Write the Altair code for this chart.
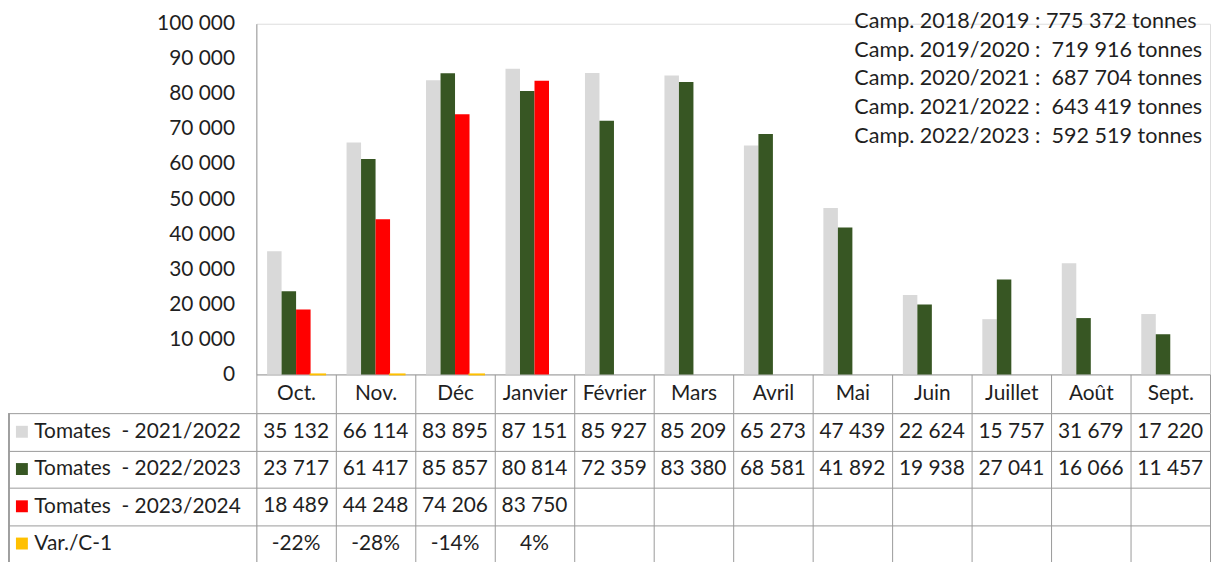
import altair as alt
import pandas as pd

months = ["Oct.", "Nov.", "Déc", "Janvier", "Février", "Mars", "Avril", "Mai",
          "Juin", "Juillet", "Août", "Sept."]
series = ["Tomates\u00a0 - 2021/2022", "Tomates\u00a0 - 2022/2023",
          "Tomates\u00a0 - 2023/2024", "Var./C-1"]
t_2021_2022 = [35132, 66114, 83895, 87151, 85927, 85209, 65273, 47439, 22624, 15757, 31679, 17220]
t_2022_2023 = [23717, 61417, 85857, 80814, 72359, 83380, 68581, 41892, 19938, 27041, 16066, 11457]
t_2023_2024 = [18489, 44248, 74206, 83750]
var_c1 = [-0.22, -0.28, -0.14, 0.04]
colors = ["#D9D9D9", "#375623", "#FF0000", "#FFC000"]
y_ticks = [0, 10000, 20000, 30000, 40000, 50000, 60000, 70000, 80000, 90000, 100000]
campaigns = [
    "Camp. 2018/2019 : 775 372 tonnes",
    "Camp. 2019/2020 :\u00a0 719 916 tonnes",
    "Camp. 2020/2021 :\u00a0 687 704 tonnes",
    "Camp. 2021/2022 :\u00a0 643 419 tonnes",
    "Camp. 2022/2023 :\u00a0 592 519 tonnes",
]

FONT = "Lato"
FS = 21
TXT = "#1f1f1f"
LINE = "#9a9a9a"
W = 960
H = 353
MONTH_ROW = 39
ROW_H = 150
LABEL_W = 249

rows = []
for vals, s, kind in [(t_2021_2022, series[0], "n"), (t_2022_2023, series[1], "n"),
                      (t_2023_2024, series[2], "n"), (var_c1, series[3], "p")]:
    for m, v in zip(months, vals):
        rows.append({"month": m, "series": s, "value": v, "kind": kind})
df = pd.DataFrame(rows)

color_scale = alt.Scale(domain=series, range=colors)
x_scale = alt.Scale(domain=months, paddingInner=0, paddingOuter=0)

bars = alt.Chart(df).mark_bar().encode(
    x=alt.X("month:N", sort=months, scale=x_scale,
            axis=alt.Axis(title=None, labelAngle=0, labelFont=FONT, labelFontSize=FS,
                          labelColor=TXT, labelBaseline="middle", labelPadding=-19.5,
                          tickBand="extent", tickSize=MONTH_ROW, tickColor=LINE,
                          domainColor=LINE, grid=False)),
    xOffset=alt.XOffset("series:N", sort=series,
                        scale=alt.Scale(domain=series, paddingInner=0, paddingOuter=0.74)),
    y=alt.Y("value:Q", scale=alt.Scale(domain=[0, 100000], nice=False),
            axis=alt.Axis(title=None, values=y_ticks, ticks=False, grid=False,
                          labelFont=FONT, labelFontSize=FS, labelColor=TXT,
                          labelPadding=22, domainColor=LINE,
                          labelExpr="replace(format(datum.value, ',d'), regexp(',', 'g'), ' ')")),
    color=alt.Color("series:N", scale=color_scale, legend=None),
    stroke=alt.Stroke("series:N", scale=color_scale, legend=None),
    strokeWidth=alt.condition("datum.series == 'Var./C-1' && datum.value < 0",
                              alt.value(2), alt.value(0)),
)

annot = alt.Chart(pd.DataFrame({"t": ["\n".join(campaigns)]})).mark_text(
    align="left", baseline="top", lineBreak="\n", lineHeight=29,
    font=FONT, fontSize=21.7, color=TXT,
).encode(x=alt.value(602), y=alt.value(-13), text="t:N")

top = alt.layer(bars, annot).properties(width=W, height=H)

# ---- data table ----
y_tab = alt.Y("series:N", sort=series,
              scale=alt.Scale(domain=series, paddingInner=0, paddingOuter=0),
              axis=alt.Axis(title=None, labels=True, labelAlign="left", labelPadding=-25,
                            labelFont=FONT, labelFontSize=FS, labelColor=TXT,
                            labelLimit=0,
                            ticks=True, tickSize=LABEL_W, tickBand="extent", tickColor=LINE,
                            domain=False, grid=True, gridColor=LINE, gridOpacity=1))

cells = alt.Chart(df).transform_calculate(
    label="datum.kind == 'p' ? replace(format(datum.value, '.0%'), '\u2212', '-') : "
          "replace(format(datum.value, ',d'), regexp(',', 'g'), ' ')"
).mark_text(font=FONT, fontSize=FS, color=TXT, baseline="middle").encode(
    x=alt.X("month:N", sort=months, scale=x_scale,
            axis=alt.Axis(title=None, labels=False, ticks=False, domain=False, grid=True,
                          tickBand="extent", gridColor=LINE, gridOpacity=1)),
    y=y_tab,
    text="label:N",
)

leg_df = pd.DataFrame({"series": series})
keys = alt.Chart(leg_df).mark_square(size=144, opacity=1).encode(
    x=alt.value(-236), y=y_tab,
    color=alt.Color("series:N", scale=color_scale, legend=None))

left_border = alt.Chart(leg_df).mark_rule(color=LINE, strokeWidth=1).encode(
    x=alt.value(-LABEL_W), y=alt.value(0), y2=alt.value(ROW_H))

table = alt.layer(cells, keys, left_border).properties(width=W, height=ROW_H)

chart = alt.vconcat(top, table, spacing=MONTH_ROW, bounds="flush").properties(
    padding={"left": 0, "top": 0, "right": 0, "bottom": 0}
).configure_view(strokeWidth=0).configure(background="white")

chart.save("out.html", embed_options={"renderer": "svg", "actions": False})
